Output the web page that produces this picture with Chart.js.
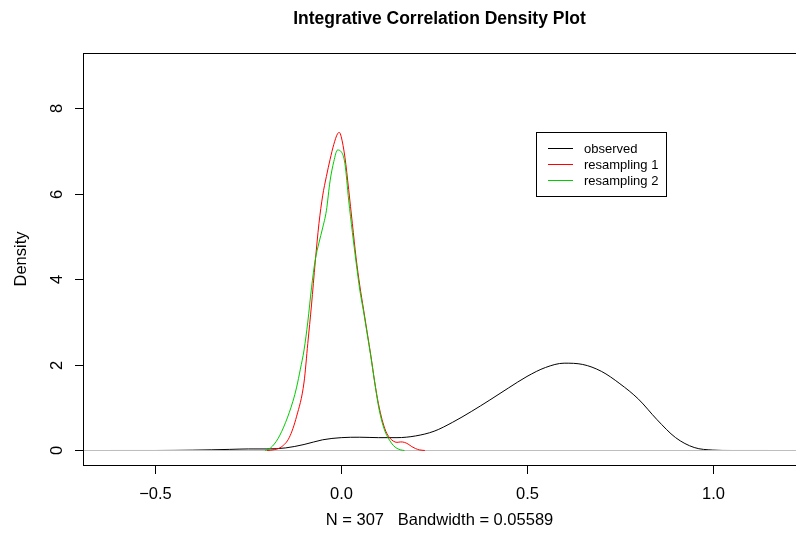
<!DOCTYPE html>
<html><head><meta charset="utf-8">
<script src="https://cdn.jsdelivr.net/npm/chart.js@4.4.0/dist/chart.umd.min.js"></script>
<style>html,body{margin:0;padding:0;background:#fff}#wrap{width:796px;height:540px}</style>
</head><body><div id="wrap"><canvas id="c" width="796" height="540"></canvas></div>
<script>
const titleText = "Integrative Correlation Density Plot";
const xAxisLabel = "N = 307   Bandwidth = 0.05589";
const yAxisLabel = "Density";
const seriesNames = ["observed", "resampling 1", "resampling 2"];
const seriesColors = ["#000000", "#FF0000", "#00CD00"];
const xTickValues = [-0.5, 0, 0.5, 1.0];
const xTickLabels = ["\u22120.5", "0.0", "0.5", "1.0"];
const yTickValues = [0, 2, 4, 6, 8];
const yTickLabels = ["0", "2", "4", "6", "8"];

const observedX = [-0.62,-0.5,-0.45,-0.4,-0.35,-0.3,-0.25,-0.2,-0.15,-0.1,-0.05,0,0.05,0.1,0.15,0.2,0.25,0.3,0.35,0.4,0.45,0.5,0.55,0.6,0.65,0.7,0.75,0.8,0.85,0.9,0.95,1.0,1.05,1.15];
const observedY = [0,0,0.003,0.008,0.016,0.026,0.036,0.036,0.06,0.14,0.25,0.30,0.31,0.30,0.30,0.34,0.45,0.66,0.91,1.18,1.46,1.73,1.94,2.04,2.01,1.85,1.56,1.2,0.72,0.3,0.07,0.01,0,0];

const resampling1X = [-0.20,-0.18,-0.16,-0.14,-0.12,-0.10,-0.09,-0.08,-0.07,-0.06,-0.05,-0.04,-0.03,-0.02,-0.01,-0.005,0.0,0.01,0.02,0.03,0.04,0.05,0.06,0.07,0.08,0.09,0.10,0.11,0.12,0.13,0.14,0.15,0.16,0.17,0.18,0.19,0.20,0.21,0.225];
const resampling1Y = [0,0.02,0.09,0.3,0.8,1.6,2.5,3.4,4.4,5.3,5.95,6.4,6.8,7.15,7.4,7.43,7.33,6.85,6.1,5.3,4.5,3.85,3.3,2.75,2.2,1.6,1.1,0.72,0.45,0.3,0.22,0.19,0.2,0.19,0.15,0.09,0.045,0.015,0];

const resampling2X = [-0.205,-0.19,-0.17,-0.15,-0.13,-0.12,-0.11,-0.10,-0.09,-0.08,-0.07,-0.06,-0.05,-0.04,-0.03,-0.02,-0.01,0.0,0.01,0.02,0.03,0.04,0.05,0.06,0.07,0.08,0.09,0.10,0.11,0.12,0.13,0.14,0.15,0.16,0.17];
const resampling2Y = [0,0.06,0.28,0.65,1.15,1.48,1.9,2.35,3.0,3.8,4.45,4.85,5.2,5.6,6.3,6.75,7.02,6.98,6.7,5.85,5.1,4.4,3.75,3.25,2.72,2.18,1.6,1.05,0.66,0.4,0.24,0.12,0.05,0.015,0];

const FONT = '"Liberation Sans", Arial, Helvetica, sans-serif';

function toPoints(xs, ys) { return xs.map((x, i) => ({ x: x, y: ys[i] })); }

const seriesData = [
  toPoints(observedX, observedY),
  toPoints(resampling1X, resampling1Y),
  toPoints(resampling2X, resampling2Y)
];

const rPlotPlugin = {
  id: 'rplot',
  beforeDraw(chart) {
    const ctx = chart.ctx;
    ctx.save();
    ctx.fillStyle = '#ffffff';
    ctx.fillRect(0, 0, chart.width, chart.height);
    ctx.restore();
  },
  afterDatasetDraw(chart, args) {
    if (args.index !== 0) return;
    const ctx = chart.ctx, ca = chart.chartArea, ys = chart.scales.y;
    const py = ys.getPixelForValue(0);
    ctx.save();
    ctx.strokeStyle = '#BEBEBE';
    ctx.lineWidth = 1.2;
    ctx.beginPath();
    ctx.moveTo(ca.left, py);
    ctx.lineTo(ca.right, py);
    ctx.stroke();
    ctx.restore();
  },
  afterDraw(chart) {
    const ctx = chart.ctx, ca = chart.chartArea;
    const xs = chart.scales.x, ys = chart.scales.y;
    ctx.save();
    ctx.strokeStyle = '#000';
    ctx.fillStyle = '#000';
    ctx.lineWidth = 1;
    // plot box
    ctx.strokeRect(ca.left + 0.5, ca.top + 0.5, ca.right - ca.left + 1, ca.bottom - ca.top);
    // x ticks
    ctx.font = '16.5px ' + FONT;
    ctx.textAlign = 'center';
    ctx.textBaseline = 'alphabetic';
    xTickValues.forEach((v, i) => {
      const px = Math.round(xs.getPixelForValue(v)) + 0.5;
      ctx.beginPath();
      ctx.moveTo(px, ca.bottom);
      ctx.lineTo(px, ca.bottom + 9);
      ctx.stroke();
      ctx.fillText(xTickLabels[i], px, ca.bottom + 34);
    });
    // y ticks
    yTickValues.forEach((v, i) => {
      const py = Math.round(ys.getPixelForValue(v)) + 0.5;
      ctx.beginPath();
      ctx.moveTo(ca.left - 8, py);
      ctx.lineTo(ca.left, py);
      ctx.stroke();
      ctx.save();
      ctx.translate(ca.left - 21, py);
      ctx.rotate(-Math.PI / 2);
      ctx.fillText(yTickLabels[i], 0, 0);
      ctx.restore();
    });
    // axis titles
    const midX = (ca.left + ca.right) / 2;
    const midY = (ca.top + ca.bottom) / 2;
    ctx.fillText(xAxisLabel, midX, ca.bottom + 60);
    ctx.save();
    ctx.translate(26, midY);
    ctx.rotate(-Math.PI / 2);
    ctx.fillText(yAxisLabel, 0, 0);
    ctx.restore();
    // main title
    ctx.font = 'bold 17.5px ' + FONT;
    ctx.fillText(titleText, midX, 24);
    // legend
    ctx.strokeRect(536.5, 132.5, 130, 64);
    ctx.font = '13px ' + FONT;
    ctx.textAlign = 'left';
    ctx.textBaseline = 'middle';
    const rows = [148, 164, 180];
    seriesNames.forEach((name, i) => {
      ctx.strokeStyle = seriesColors[i];
      ctx.beginPath();
      ctx.moveTo(548, rows[i] + 0.5);
      ctx.lineTo(573, rows[i] + 0.5);
      ctx.stroke();
      ctx.fillStyle = '#000';
      ctx.fillText(name, 584, rows[i] + 1);
    });
    ctx.restore();
  }
};

new Chart(document.getElementById('c'), {
  type: 'scatter',
  data: {
    datasets: seriesData.map((pts, i) => ({
      label: seriesNames[i],
      data: pts,
      showLine: true,
      borderColor: seriesColors[i],
      backgroundColor: seriesColors[i],
      borderWidth: 1,
      pointRadius: 0,
      pointHoverRadius: 0,
      cubicInterpolationMode: 'monotone',
      fill: false,
      order: 3 - i
    }))
  },
  options: {
    responsive: false,
    animation: false,
    devicePixelRatio: 1,
    events: [],
    layout: { padding: { left: 83, top: 53, right: 0, bottom: 75 } },
    plugins: { legend: { display: false }, title: { display: false }, tooltip: { enabled: false } },
    scales: {
      x: { type: 'linear', min: -0.695, max: 1.224, display: false },
      y: { type: 'linear', min: -0.339, max: 9.287, display: false }
    }
  },
  plugins: [rPlotPlugin]
});
</script>
</body></html>
